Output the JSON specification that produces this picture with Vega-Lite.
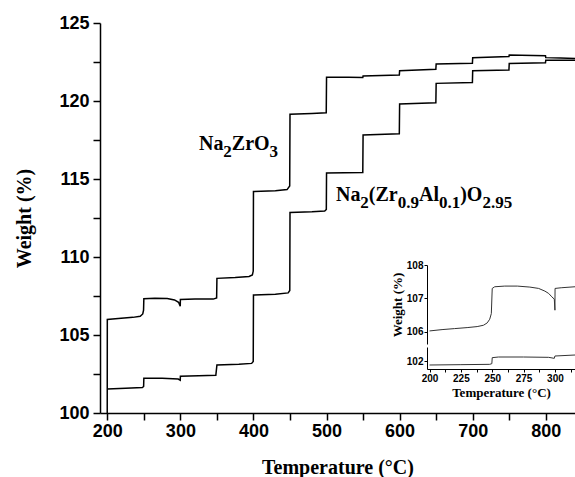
{
  "$schema": "https://vega.github.io/schema/vega-lite/v6.json",
  "width": 475,
  "height": 390,
  "autosize": {"type": "none"},
  "padding": {"left": 100, "top": 23, "right": 0, "bottom": 64},
  "background": "white",
  "config": {"view": {"stroke": null}, "axis": {"grid": false, "domainColor": "black", "tickColor": "black", "labelColor": "black", "titleColor": "black", "labelOverlap": false, "labelFlush": false}},
  "layer": [
    {
      "encoding": {
        "x": {"field": "t", "type": "quantitative", "scale": {"domain": [190, 840], "nice": false, "zero": false},
          "axis": {"values": [200, 250, 300, 350, 400, 450, 500, 550, 600, 650, 700, 750, 800], "labelExpr": "datum.value % 100 === 0 ? datum.label : ''",
            "tickSize": 7, "tickWidth": 1.5, "domainWidth": 1.5, "labelFont": "Liberation Sans", "labelFontWeight": "bold", "labelFontSize": 18, "labelPadding": 2,
            "title": "Temperature (°C)", "titleFont": "Liberation Serif", "titleFontSize": 20, "titleFontWeight": "bold", "titlePadding": 17}},
        "y": {"field": "w", "type": "quantitative", "scale": {"domain": [100, 125], "nice": false, "zero": false},
          "axis": {"values": [100, 102.5, 105, 107.5, 110, 112.5, 115, 117.5, 120, 122.5, 125], "labelExpr": "datum.value % 5 === 0 ? datum.label : ''",
            "tickSize": 7, "tickWidth": 1.5, "domainWidth": 1.5, "labelFont": "Liberation Sans", "labelFontWeight": "bold", "labelFontSize": 18, "labelPadding": 4,
            "title": "Weight (%)", "titleFont": "Liberation Serif", "titleFontSize": 20, "titleFontWeight": "bold", "titlePadding": 24}}
      },
      "layer": [
        {
          "data": {"values": [
            {"series": "Na2ZrO3", "t": 199.9, "w": 100},
            {"series": "Na2ZrO3", "t": 200, "w": 106.0},
            {"series": "Na2ZrO3", "t": 215, "w": 106.06},
            {"series": "Na2ZrO3", "t": 235, "w": 106.13},
            {"series": "Na2ZrO3", "t": 245, "w": 106.2},
            {"series": "Na2ZrO3", "t": 248.5, "w": 106.35},
            {"series": "Na2ZrO3", "t": 249.6, "w": 106.6},
            {"series": "Na2ZrO3", "t": 250, "w": 107.32},
            {"series": "Na2ZrO3", "t": 265, "w": 107.36},
            {"series": "Na2ZrO3", "t": 282, "w": 107.34},
            {"series": "Na2ZrO3", "t": 292, "w": 107.25},
            {"series": "Na2ZrO3", "t": 297.5, "w": 107.1},
            {"series": "Na2ZrO3", "t": 299.8, "w": 106.85},
            {"series": "Na2ZrO3", "t": 300, "w": 107.28},
            {"series": "Na2ZrO3", "t": 320, "w": 107.3},
            {"series": "Na2ZrO3", "t": 345, "w": 107.3},
            {"series": "Na2ZrO3", "t": 349.6, "w": 107.38},
            {"series": "Na2ZrO3", "t": 350, "w": 108.63},
            {"series": "Na2ZrO3", "t": 375, "w": 108.68},
            {"series": "Na2ZrO3", "t": 394, "w": 108.75},
            {"series": "Na2ZrO3", "t": 398.5, "w": 108.85},
            {"series": "Na2ZrO3", "t": 399.7, "w": 109.1},
            {"series": "Na2ZrO3", "t": 400, "w": 114.2},
            {"series": "Na2ZrO3", "t": 430, "w": 114.25},
            {"series": "Na2ZrO3", "t": 446, "w": 114.32},
            {"series": "Na2ZrO3", "t": 449.6, "w": 114.55},
            {"series": "Na2ZrO3", "t": 450, "w": 119.15},
            {"series": "Na2ZrO3", "t": 480, "w": 119.2},
            {"series": "Na2ZrO3", "t": 499.6, "w": 119.25},
            {"series": "Na2ZrO3", "t": 500, "w": 121.53},
            {"series": "Na2ZrO3", "t": 530, "w": 121.52},
            {"series": "Na2ZrO3", "t": 549.6, "w": 121.5},
            {"series": "Na2ZrO3", "t": 550, "w": 121.6},
            {"series": "Na2ZrO3", "t": 599.6, "w": 121.66},
            {"series": "Na2ZrO3", "t": 600, "w": 121.94},
            {"series": "Na2ZrO3", "t": 649.6, "w": 122.03},
            {"series": "Na2ZrO3", "t": 650, "w": 122.37},
            {"series": "Na2ZrO3", "t": 699.6, "w": 122.42},
            {"series": "Na2ZrO3", "t": 700, "w": 122.78},
            {"series": "Na2ZrO3", "t": 749.6, "w": 122.85},
            {"series": "Na2ZrO3", "t": 750, "w": 122.95},
            {"series": "Na2ZrO3", "t": 799.6, "w": 122.9},
            {"series": "Na2ZrO3", "t": 800, "w": 122.78},
            {"series": "Na2ZrO3", "t": 820, "w": 122.75},
            {"series": "Na2ZrO3", "t": 840, "w": 122.72},
            {"series": "Al", "t": 200, "w": 101.54},
            {"series": "Al", "t": 225, "w": 101.58},
            {"series": "Al", "t": 248, "w": 101.63},
            {"series": "Al", "t": 249.7, "w": 101.7},
            {"series": "Al", "t": 250, "w": 102.23},
            {"series": "Al", "t": 275, "w": 102.22},
            {"series": "Al", "t": 297, "w": 102.18},
            {"series": "Al", "t": 299.8, "w": 102.1},
            {"series": "Al", "t": 300, "w": 102.35},
            {"series": "Al", "t": 325, "w": 102.38},
            {"series": "Al", "t": 348.5, "w": 102.42},
            {"series": "Al", "t": 350, "w": 103.08},
            {"series": "Al", "t": 380, "w": 103.12},
            {"series": "Al", "t": 397.5, "w": 103.18},
            {"series": "Al", "t": 399.7, "w": 103.3},
            {"series": "Al", "t": 400, "w": 107.56},
            {"series": "Al", "t": 430, "w": 107.62},
            {"series": "Al", "t": 447.5, "w": 107.7},
            {"series": "Al", "t": 449.7, "w": 107.85},
            {"series": "Al", "t": 450, "w": 112.85},
            {"series": "Al", "t": 480, "w": 112.9},
            {"series": "Al", "t": 497.5, "w": 112.95},
            {"series": "Al", "t": 499.7, "w": 113.05},
            {"series": "Al", "t": 500, "w": 115.38},
            {"series": "Al", "t": 549.6, "w": 115.42},
            {"series": "Al", "t": 550, "w": 117.82},
            {"series": "Al", "t": 599.6, "w": 117.9},
            {"series": "Al", "t": 600, "w": 119.81},
            {"series": "Al", "t": 649.6, "w": 119.88},
            {"series": "Al", "t": 650, "w": 121.13},
            {"series": "Al", "t": 699.6, "w": 121.18},
            {"series": "Al", "t": 700, "w": 121.94},
            {"series": "Al", "t": 749.6, "w": 121.98},
            {"series": "Al", "t": 750, "w": 122.41},
            {"series": "Al", "t": 799.6, "w": 122.45},
            {"series": "Al", "t": 800, "w": 122.62},
            {"series": "Al", "t": 840, "w": 122.62}
          ]},
          "mark": {"type": "line", "color": "black", "strokeWidth": 1.5, "clip": true},
          "encoding": {"detail": {"field": "series"}}
        },
        {
          "data": {"values": [
            {"s": "Na", "t": 325.47, "w": 116.86},
            {"s": "ZrO", "t": 370.36, "w": 116.86},
            {"s": "Na", "t": 512.95, "w": 113.59},
            {"s": "(Zr", "t": 557.84, "w": 113.59},
            {"s": "Al", "t": 626.53, "w": 113.59},
            {"s": ")O", "t": 682.91, "w": 113.59}
          ]},
          "mark": {"type": "text", "align": "left", "baseline": "alphabetic", "font": "Liberation Serif", "fontWeight": "bold", "fontSize": 20, "color": "black"},
          "encoding": {"text": {"field": "s"}}
        },
        {
          "data": {"values": [
            {"s": "2", "t": 358.73, "w": 116.86},
            {"s": "3", "t": 422.08, "w": 116.86},
            {"s": "2", "t": 546.21, "w": 113.59},
            {"s": "0.9", "t": 597.39, "w": 113.59},
            {"s": "0.1", "t": 653.9, "w": 113.59},
            {"s": "2.95", "t": 713.29, "w": 113.59}
          ]},
          "mark": {"type": "text", "align": "left", "baseline": "alphabetic", "dy": 7, "font": "Liberation Serif", "fontWeight": "bold", "fontSize": 17, "color": "black"},
          "encoding": {"text": {"field": "s"}}
        }
      ]
    },
    {
      "data": {"values": [
        {"t": 200, "w": 106.03},
        {"t": 210, "w": 106.07},
        {"t": 220, "w": 106.1},
        {"t": 230, "w": 106.13},
        {"t": 238, "w": 106.16},
        {"t": 243, "w": 106.2},
        {"t": 246, "w": 106.27},
        {"t": 248, "w": 106.38},
        {"t": 249.3, "w": 106.55},
        {"t": 250, "w": 107.3},
        {"t": 252, "w": 107.35},
        {"t": 260, "w": 107.37},
        {"t": 270, "w": 107.37},
        {"t": 280, "w": 107.34},
        {"t": 287, "w": 107.3},
        {"t": 292, "w": 107.22},
        {"t": 295, "w": 107.15},
        {"t": 297.5, "w": 107.05},
        {"t": 299.5, "w": 106.98},
        {"t": 300, "w": 106.65},
        {"t": 300.1, "w": 107.3},
        {"t": 305, "w": 107.32},
        {"t": 316, "w": 107.35}
      ]},
      "mark": {"type": "line", "color": "#333333", "strokeWidth": 1},
      "encoding": {
        "x": {"field": "t", "type": "quantitative", "scale": {"domain": [198, 316], "range": [327, 475], "nice": false, "zero": false},
          "axis": {"orient": "bottom", "offset": -44, "values": [200, 212.5, 225, 237.5, 250, 262.5, 275, 287.5, 300, 312.5], "labelExpr": "datum.value % 25 === 0 ? datum.label : ''",
            "tickSize": 3, "tickWidth": 1, "domainWidth": 1, "labelFont": "Liberation Sans", "labelFontWeight": "bold", "labelFontSize": 10, "labelPadding": 1,
            "title": "Temperature (°C)", "titleFont": "Liberation Serif", "titleFontSize": 13, "titleFontWeight": "bold", "titlePadding": 3}},
        "y": {"field": "w", "type": "quantitative", "scale": {"domain": [105.64, 108], "range": [321, 242], "nice": false, "zero": false},
          "axis": {"orient": "left", "offset": -327, "values": [106, 107, 108], "format": "d",
            "tickSize": 3, "tickWidth": 1, "domainWidth": 1, "labelFont": "Liberation Sans", "labelFontWeight": "bold", "labelFontSize": 10, "labelPadding": 1,
            "title": "Weight (%)", "titleFont": "Liberation Serif", "titleFontSize": 13, "titleFontWeight": "bold", "titlePadding": 2}}
      }
    },
    {
      "data": {"values": [
        {"t": 200, "w": 101.88},
        {"t": 225, "w": 101.89},
        {"t": 248, "w": 101.9},
        {"t": 249.7, "w": 101.92},
        {"t": 250, "w": 102.1},
        {"t": 255, "w": 102.12},
        {"t": 275, "w": 102.12},
        {"t": 295, "w": 102.11},
        {"t": 299.5, "w": 102.08},
        {"t": 300, "w": 102.15},
        {"t": 316, "w": 102.18}
      ]},
      "mark": {"type": "line", "color": "#333333", "strokeWidth": 1},
      "encoding": {
        "x": {"field": "t", "type": "quantitative", "scale": {"domain": [198, 316], "range": [327, 475], "nice": false, "zero": false}, "axis": null},
        "y": {"field": "w", "type": "quantitative", "scale": {"domain": [101.76, 102.42], "range": [346, 324], "nice": false, "zero": false},
          "axis": {"orient": "left", "offset": -327, "values": [102], "format": "d", "title": null,
            "tickSize": 3, "tickWidth": 1, "domainWidth": 1, "labelFont": "Liberation Sans", "labelFontWeight": "bold", "labelFontSize": 10, "labelPadding": 1}}
      }
    }
  ],
  "resolve": {"scale": {"x": "independent", "y": "independent"}}
}
